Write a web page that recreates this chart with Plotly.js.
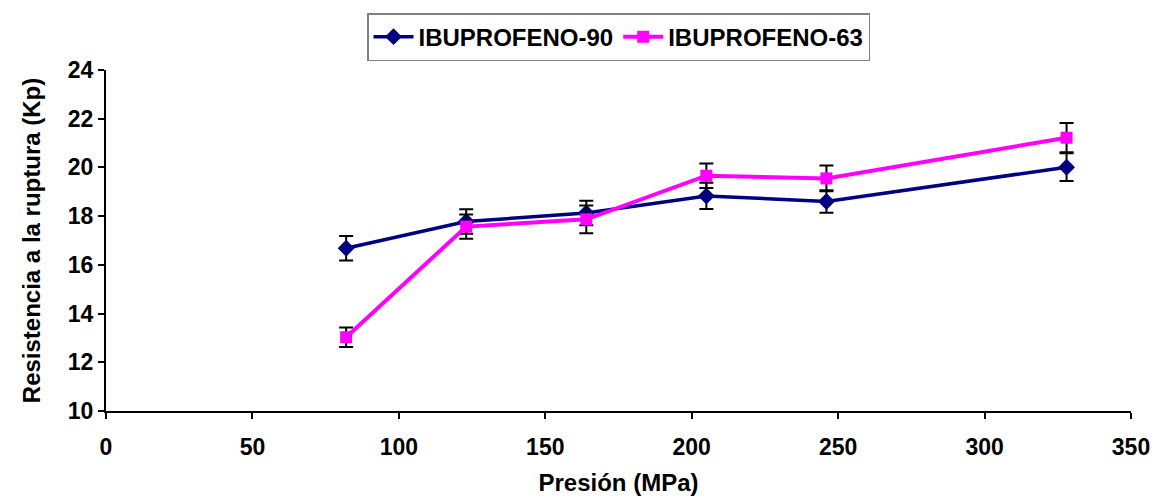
<!DOCTYPE html>
<html>
<head>
<meta charset="utf-8">
<script src="https://cdn.plot.ly/plotly-3.0.1.min.js"></script>
<style>html,body{margin:0;padding:0;background:#fff;}#chart{width:1163px;height:497px;}</style>
</head>
<body>
<div id="chart"></div>
<script>
var presion = [82, 123, 164, 205, 246, 328];
var ibu90 = [16.68, 17.78, 18.13, 18.83, 18.6, 20.01];
var ibu90Err = [0.5, 0.5, 0.5, 0.54, 0.46, 0.57];
var ibu63 = [13.03, 17.57, 17.87, 19.66, 19.55, 21.22];
var ibu63Err = [0.4, 0.5, 0.57, 0.5, 0.53, 0.6];
var seriesNames = ['IBUPROFENO-90', 'IBUPROFENO-63'];

var font = 'Liberation Sans, Arial, sans-serif';
var traces = [
  {
    x: presion, y: ibu90, name: seriesNames[0], type: 'scatter', mode: 'lines+markers',
    line: {color: '#000080', width: 3.5},
    marker: {symbol: 'diamond', size: 13, color: '#000080'},
    error_y: {type: 'data', array: ibu90Err, visible: true, color: '#000000', thickness: 2, width: 7}
  },
  {
    x: presion, y: ibu63, name: seriesNames[1], type: 'scatter', mode: 'lines+markers',
    line: {color: '#FF00FF', width: 4},
    marker: {symbol: 'square', size: 12, color: '#FF00FF'},
    error_y: {type: 'data', array: ibu63Err, visible: true, color: '#000000', thickness: 2, width: 7}
  }
];

var layout = {
  width: 1163, height: 497,
  margin: {l: 106, r: 32, t: 70, b: 86},
  paper_bgcolor: '#ffffff', plot_bgcolor: '#ffffff',
  font: {family: font, size: 22, color: '#000000', weight: 700},
  showlegend: true,
  legend: {
    orientation: 'h', x: 0.5, xanchor: 'center', y: 1.167, yanchor: 'top',
    bordercolor: '#808080', borderwidth: 1.5, bgcolor: '#ffffff',
    font: {family: font, size: 24, color: '#000000', weight: 700},
    itemwidth: 40
  },
  xaxis: {
    range: [0, 350], dtick: 50, tick0: 0,
    showgrid: false, zeroline: false,
    showline: true, linecolor: '#000000', linewidth: 2,
    ticks: 'outside', ticklen: 6, tickwidth: 2, tickcolor: '#000000',
    ticklabelstandoff: 8,
    tickfont: {family: font, size: 23, color: '#000000', weight: 700},
    title: {text: 'Presión (MPa)', font: {family: font, size: 24, color: '#000000', weight: 700}, standoff: 16}
  },
  yaxis: {
    range: [10, 24], dtick: 2, tick0: 10,
    showgrid: false, zeroline: false,
    showline: true, linecolor: '#000000', linewidth: 2,
    ticks: 'outside', ticklen: 6, tickwidth: 2, tickcolor: '#000000',
    tickfont: {family: font, size: 23, color: '#000000', weight: 700},
    title: {text: 'Resistencia a la ruptura (Kp)', font: {family: font, size: 24, color: '#000000', weight: 700}, standoff: 20}
  }
};

Plotly.newPlot('chart', traces, layout, {displayModeBar: false, staticPlot: true});
</script>
</body>
</html>
